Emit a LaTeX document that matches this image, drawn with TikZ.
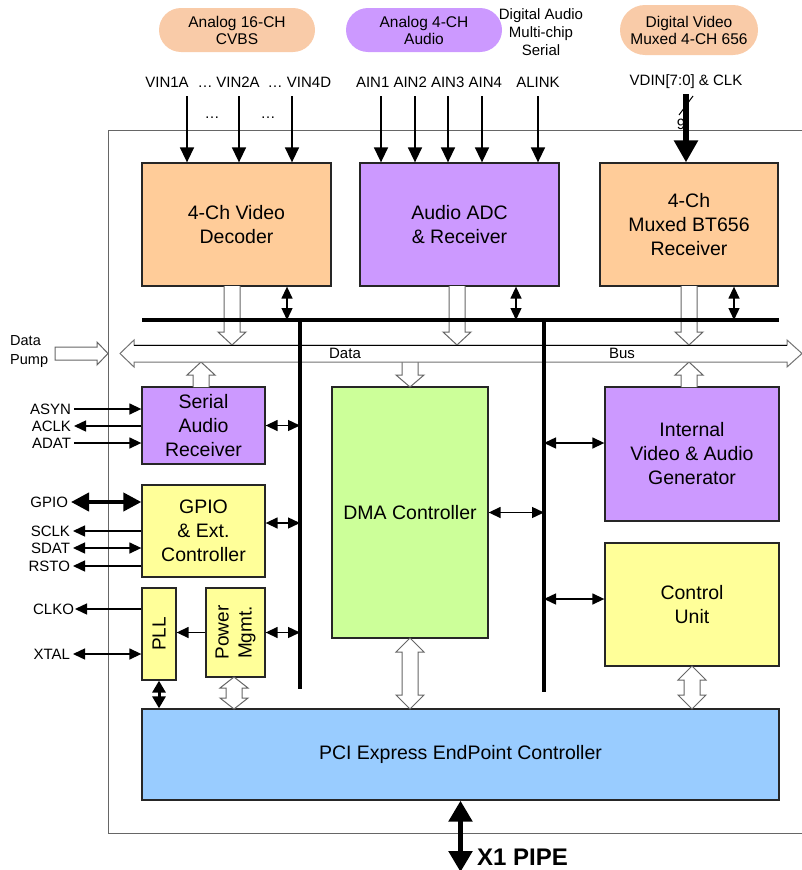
\documentclass[tikz,border=0pt]{standalone}
\usepackage{fontspec}
\setmainfont{Liberation Sans}
\usetikzlibrary{arrows.meta,calc}
\definecolor{peach}{HTML}{FFCC99}
\definecolor{lilac}{HTML}{CC99FF}
\definecolor{lyellow}{HTML}{FFFF99}
\definecolor{lgreen}{HTML}{CCFF99}
\definecolor{lblue}{HTML}{99CCFF}
\definecolor{pillpeach}{HTML}{F9CBA8}
\definecolor{pilllilac}{HTML}{CC99FF}
\newcommand{\harr}[4]{% x, y tail, y tip, signed head length
  \draw[hollow] (#1-8,#2) -- (#1-8,#3+#4) -- (#1-14,#3+#4) -- (#1,#3) -- (#1+14,#3+#4) -- (#1+8,#3+#4) -- (#1+8,#2);}
\newcommand{\hdbl}[4]{% x, y top, y bottom, head length
  \draw[hollow] (#1,#2) -- (#1+14,#2+#4) -- (#1+8,#2+#4) -- (#1+8,#3-#4) -- (#1+14,#3-#4) -- (#1,#3) -- (#1-14,#3-#4) -- (#1-8,#3-#4) -- (#1-8,#2+#4) -- (#1-14,#2+#4) -- cycle;}
\begin{document}
\begin{tikzpicture}[x=1pt,y=-1pt,
  blk/.style={draw=black!85,line width=1.3pt,inner sep=0pt,align=center,font=\fontsize{19.5}{24}\selectfont},
  pill/.style={inner sep=0pt,align=center,font=\fontsize{15.5}{17}\selectfont},
  lbl/.style={inner sep=0pt,font=\fontsize{15}{18}\selectfont},
  side/.style={lbl,anchor=east,outer sep=3pt},
  sig/.style={line width=1.4pt,-{Triangle[length=12pt,width=11pt]}},
  dsig/.style={line width=1.4pt,{Triangle[length=12pt,width=11pt]}-{Triangle[length=12pt,width=11pt]}},
  insig/.style={line width=1.5pt,-{Triangle[length=15pt,width=14pt]}},
  bus/.style={line width=3.5pt},
  hollow/.style={draw=black!60,line width=1pt,fill=white,line join=miter},
]
\useasboundingbox (0,0) rectangle (802,870);
% outer frame
\draw[black!60,line width=1pt] (803,130) -- (108,130) -- (108,833) -- (803,833);

% top pills
\node[pill,fill=pillpeach,minimum width=156pt,minimum height=44pt,rounded corners=22pt] (p1) at (237,30) {Analog 16-CH\\CVBS};
\node[pill,fill=pilllilac,minimum width=156pt,minimum height=44pt,rounded corners=22pt] (p2) at (424,30) {Analog 4-CH\\Audio};
\node[lbl,align=center] (das) at (541,32) {Digital Audio\\Multi-chip\\Serial};
\node[pill,fill=pillpeach,minimum width=138pt,minimum height=50pt,rounded corners=25pt] (p3) at (689,30) {Digital Video\\Muxed 4-CH 656};

% input labels
\node[lbl] (v1) at (167,82) {VIN1A};
\node[lbl] (d1) at (205,86.5) {…};
\node[lbl] (v2) at (238,82) {VIN2A};
\node[lbl] (d2) at (275,86.5) {…};
\node[lbl] (v4) at (309,82) {VIN4D};
\node[lbl] (ain) at (429,82) {AIN1 AIN2 AIN3 AIN4};
\node[lbl] (alink) at (538,82) {ALINK};
\node[lbl] (vdin) at (686,82) {VDIN[7:0] \& CLK};
\node[lbl] (dd1) at (212,118) {…};
\node[lbl] (dd2) at (268,118) {…};

% blocks
\node[blk,fill=peach,minimum width=189pt,minimum height=123pt] (vdec) at (236.5,224.5) {4-Ch Video\\Decoder};
\node[blk,fill=lilac,minimum width=199pt,minimum height=123pt] (adc) at (459.5,224.5) {Audio ADC\\\& Receiver};
\node[blk,fill=peach,minimum width=178pt,minimum height=123pt] (bt) at (689,224.5) {4-Ch\\Muxed BT656\\Receiver};
\node[blk,fill=lilac,minimum width=123pt,minimum height=77pt] (sar) at (203.5,425.5) {Serial\\Audio\\Receiver};
\node[blk,fill=lyellow,minimum width=123pt,minimum height=92pt] (gpio) at (203.5,531) {GPIO\\\& Ext.\\Controller};
\node[blk,fill=lyellow,minimum width=34pt,minimum height=92pt] (pll) at (159,634) {};
\node[rotate=90,inner sep=0pt,font=\fontsize{19}{23}\selectfont] (plltxt) at (pll.center) {PLL};
\node[blk,fill=lyellow,minimum width=59pt,minimum height=89pt] (pwr) at (235.5,632.5) {};
\node[rotate=90,inner sep=0pt,align=center,font=\fontsize{19}{23}\selectfont] (pwrtxt) at (pwr.center) {Power\\Mgmt.};
\node[blk,fill=lgreen,minimum width=156pt,minimum height=251pt] (dma) at (410,512.5) {DMA Controller};
\node[blk,fill=lilac,minimum width=174pt,minimum height=134pt] (ivg) at (692,454) {Internal\\Video \& Audio\\Generator};
\node[blk,fill=lyellow,minimum width=174pt,minimum height=123pt] (cu) at (692,604.5) {Control\\Unit};
\node[blk,fill=lblue,minimum width=637pt,minimum height=91pt] (pci) at (460.5,754.5) {PCI Express EndPoint Controller};

% input arrows
\coordinate (t1) at (187,96);
\coordinate (t2) at (239,96);
\coordinate (t3) at (292,96);
\coordinate (t4) at (381,96);
\coordinate (t5) at (415,96);
\coordinate (t6) at (448,96);
\coordinate (t7) at (482,96);
\coordinate (t8) at (538,96);
\coordinate (t9) at (686,94);
\foreach \t in {t1,t2,t3} \draw[insig] (\t) -- (\t |- vdec.north);
\foreach \t in {t4,t5,t6,t7,t8} \draw[insig] (\t) -- (\t |- adc.north);
\draw[line width=1pt] (679,115) -- (693,96);
\draw[line width=5.5pt,-{Triangle[length=22pt,width=23pt]}] (t9) -- (t9 |- bt.north);
\node[lbl] (nine) at (681,124) {9};

% hollow arrows to / from data bus
\harr{232}{286}{345}{-13}
\harr{457}{286}{345}{-13}
\harr{689}{286}{345}{-13}
\harr{201}{387}{362}{13}
\harr{689}{387}{362}{13}
\harr{410}{362}{387}{-12}

% data bus
\draw[draw=black!55,line width=1pt,fill=white,line join=miter] (120,353.5) -- (134,340) -- (134,345) -- (787,345) -- (787,340) -- (802,353.5) -- (787,367) -- (787,362) -- (134,362) -- (134,367) -- cycle;
\draw[black,line width=1pt] (134,345) -- (787,345);
\node[lbl] (dlab) at (345,353) {Data};
\node[lbl] (blab) at (622,353) {Bus};

% data pump
\node[lbl,align=left,anchor=west,font=\fontsize{14.5}{19}\selectfont] (pump) at (10,352) {Data\\Pump};
\draw[hollow] (55,347) -- (97,347) -- (97,342) -- (108,353.5) -- (97,365) -- (97,360) -- (55,360) -- cycle;

% control bus lines
\coordinate (hbL) at (142,320);
\coordinate (hbR) at (779,320);
\coordinate (v1T) at (300,320);
\coordinate (v1B) at (300,689);
\coordinate (v2T) at (544,320);
\coordinate (v2B) at (544,692);
\draw[bus] (hbL) -- (hbR);
\draw[bus] (v1T) -- (v1B);
\draw[bus] (v2T) -- (v2B);

% block <-> control bus
\coordinate (xa) at (287,0);
\coordinate (xb) at (516,0);
\coordinate (xc) at (734,0);
\draw[dsig] (vdec.south -| xa) -- (hbL -| xa);
\draw[dsig] (adc.south -| xb) -- (hbL -| xb);
\draw[dsig] (bt.south -| xc) -- (hbL -| xc);
\draw[dsig] (sar.east) -- (sar.east -| v1T);
\coordinate (yg) at (0,523);
\draw[dsig] (gpio.east |- yg) -- (v1T |- yg);
\draw[dsig] (pwr.east) -- (pwr.east -| v1T);
\draw[sig] (pwr.west) -- (pll.east |- pwr.west);
\draw[dsig] (dma.east) -- (dma.east -| v2T);
\coordinate (yi) at (0,443);
\coordinate (yc) at (0,599);
\draw[dsig] (v2T |- yi) -- (ivg.west |- yi);
\draw[dsig] (v2T |- yc) -- (cu.west |- yc);

% to PCI
\draw[line width=3pt,{Triangle[length=12pt,width=13pt]}-{Triangle[length=12pt,width=13pt]}] (pll.south) -- (pll.south |- pci.north);
\hdbl{234}{677}{709}{11}
\hdbl{410}{638}{709}{14}
\hdbl{692}{666}{709}{14}
\coordinate (xend) at (0,872);
\draw[line width=5.5pt,{Triangle[length=21pt,width=23pt]}-{Triangle[length=21pt,width=23pt]}] (pci.south) -- (pci.south |- xend);
\node[inner sep=0pt,anchor=west,font=\bfseries\fontsize{24}{28}\selectfont] (x1) at (477,857) {X1 PIPE};

% side signals
\node[side] (asyn) at (74,409) {ASYN};
\node[side] (aclk) at (74,426) {ACLK};
\node[side] (adat) at (74,443) {ADAT};
\node[side] (gpl) at (71,502) {GPIO};
\node[side] (sclk) at (73,531) {SCLK};
\node[side] (sdat) at (73,548) {SDAT};
\node[side] (rsto) at (73,566) {RSTO};
\node[side,outer sep=1pt] (clko) at (75,609) {CLKO};
\node[side] (xtal) at (73,654) {XTAL};
\draw[sig] (asyn) -- (asyn -| sar.west);
\draw[sig] (aclk -| sar.west) -- (aclk);
\draw[sig] (adat) -- (adat -| sar.west);
\draw[line width=4pt,{Triangle[length=18pt,width=18pt]}-{Triangle[length=18pt,width=18pt]}] (gpl) -- (gpl -| gpio.west);
\draw[sig] (sclk -| gpio.west) -- (sclk);
\draw[dsig] (sdat) -- (sdat -| gpio.west);
\draw[sig] (rsto -| gpio.west) -- (rsto);
\draw[sig] (clko -| pll.west) -- (clko);
\draw[dsig] (xtal) -- (xtal -| pll.west);
\end{tikzpicture}
\end{document}
